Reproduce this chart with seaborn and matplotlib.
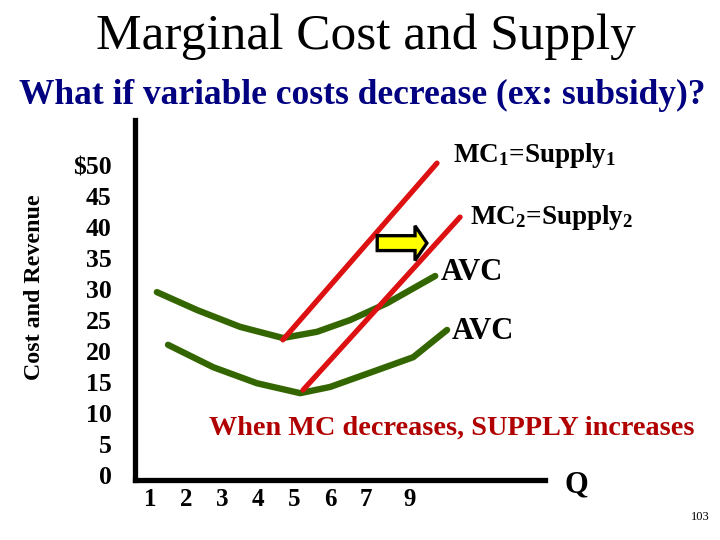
import matplotlib
matplotlib.use("Agg")
import matplotlib.pyplot as plt
import seaborn as sns
import pandas as pd
from matplotlib.patches import FancyArrow

# ---- data ----
mc1_q = [4.69, 8.97]
mc1_cost = [21.8, 50.3]
mc2_q = [5.25, 9.61]
mc2_cost = [13.7, 41.6]
avc1_q = [1.19, 2.31, 3.5, 4.69, 5.64, 6.56, 7.58, 8.92]
avc1_cost = [29.5, 26.6, 23.9, 22.1, 23.1, 25.0, 27.7, 32.1]
avc2_q = [1.5, 2.75, 3.97, 5.17, 6.0, 7.11, 8.31, 9.25]
avc2_cost = [21.0, 17.4, 14.8, 13.2, 14.2, 16.5, 19.0, 23.4]

y_ticks = [0, 5, 10, 15, 20, 25, 30, 35, 40, 45, 50]
y_labels = ["0", "5", "10", "15", "20", "25", "30", "35", "40", "45", "$50"]
x_ticks = [1, 2, 3, 4, 5, 6, 7, 8.22]
x_labels = ["1", "2", "3", "4", "5", "6", "7", "9"]

title = "Marginal Cost and Supply"
subtitle = "What if variable costs decrease (ex: subsidy)?"
note = "When MC decreases, SUPPLY increases"

sns.set_theme(style="white")
plt.rcParams['font.family'] = ['Liberation Serif', 'DejaVu Serif']
plt.rcParams['text.color'] = 'black'
plt.rcParams['xtick.color'] = 'black'
plt.rcParams['ytick.color'] = 'black'
plt.rcParams['mathtext.fontset'] = 'custom'
plt.rcParams['mathtext.rm'] = 'Liberation Serif:bold'
plt.rcParams['mathtext.it'] = 'Liberation Serif:bold'
plt.rcParams['mathtext.bf'] = 'Liberation Serif:bold'

RED = "#DD1111"
GREEN = "#336600"

frames = []
for name, q, c in [("MC1", mc1_q, mc1_cost), ("MC2", mc2_q, mc2_cost),
                   ("AVC1", avc1_q, avc1_cost), ("AVC2", avc2_q, avc2_cost)]:
    frames.append(pd.DataFrame({"Q": q, "Cost": c, "series": name}))
df = pd.concat(frames, ignore_index=True)

fig = plt.figure(figsize=(7.2, 5.4), dpi=100)
ax = fig.add_axes([135/720, 60/540, 410/720, 360/540])

for name, lw in [("AVC1", 4.6), ("AVC2", 4.6), ("MC1", 3.8), ("MC2", 3.8)]:
    sub = df[df["series"] == name]
    sns.lineplot(data=sub, x="Q", y="Cost", ax=ax,
                 color=RED if name.startswith("MC") else GREEN,
                 linewidth=lw, legend=False, sort=False)

ax.set_xlim(0.583, 11.97)
ax.set_ylim(-0.806, 57.26)
ax.set_xlabel("")
ax.set_ylabel("")
for s in ["top", "right"]:
    ax.spines[s].set_visible(False)
for s in ["left", "bottom"]:
    ax.spines[s].set_linewidth(3.8)
    ax.spines[s].set_color("black")
ax.set_yticks(y_ticks)
ax.set_yticklabels(y_labels, fontsize=18.5, fontweight="bold", color="black")
ax.set_xticks(x_ticks)
ax.set_xticklabels(x_labels, fontsize=18, fontweight="bold", color="black")
ax.tick_params(axis="y", length=0, pad=17)
ax.tick_params(axis="x", length=0, pad=6)
ax.grid(False)

# arrow showing shift
ax.add_patch(FancyArrow(7.31, 37.4, 1.38, 0, width=2.4, head_width=5.6,
                        head_length=0.33, length_includes_head=True,
                        facecolor="#FFFF00", edgecolor="black", linewidth=2.4,
                        zorder=5))

lab = dict(fontsize=19.5, fontweight="bold", color="black", va="center", ha="left")
ax.text(9.42, 51.6, r"MC$_1$=Supply$_1$", **lab)
ax.text(9.89, 41.5, r"MC$_2$=Supply$_2$", **lab)
ax.text(9.08, 32.7, "AVC", fontsize=22, fontweight="bold", va="center", ha="left")
ax.text(9.39, 23.1, "AVC", fontsize=22, fontweight="bold", va="center", ha="left")
ax.text(12.5, -1.6, "Q", fontsize=22, fontweight="bold", va="center", ha="left")

fig.text(452/720, 1 - 428/540, note, fontsize=20.3, fontweight="bold",
         color="#B00000", ha="center", va="center")
fig.text(366/720, 1 - 37/540, title, fontsize=37, color="black",
         ha="center", va="center")
fig.text(362/720, 1 - 95/540, subtitle, fontsize=25.5, fontweight="bold",
         color="#000080", ha="center", va="center")
fig.text(35/720, 1 - 287/540, "Cost and Revenue", fontsize=17.3,
         fontweight="bold", rotation=90, ha="center", va="center")
fig.text(700/720, 1 - 517/540, "103", fontsize=9, ha="center", va="center")

fig.savefig("out.png", dpi=100)
